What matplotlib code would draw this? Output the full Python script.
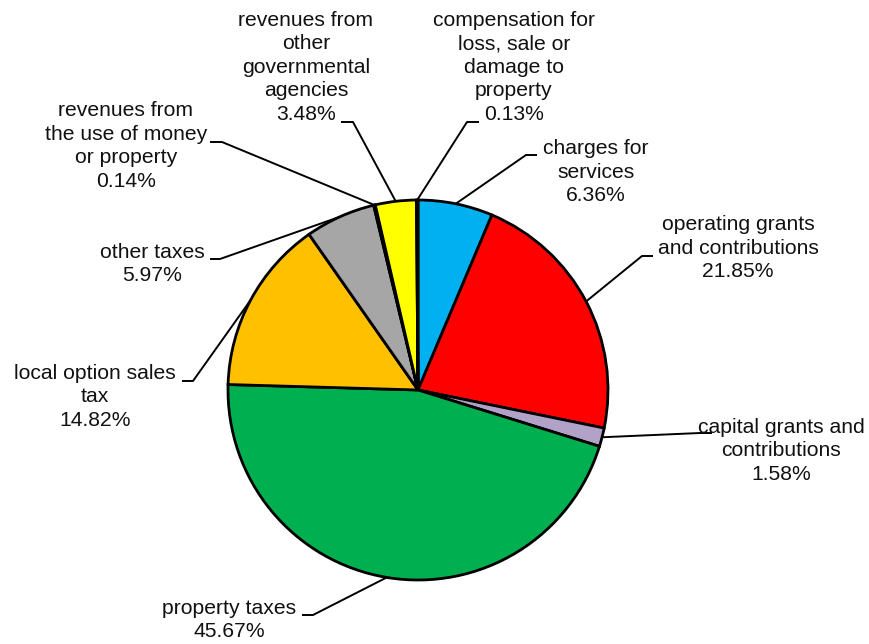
import numpy as np
import matplotlib
matplotlib.use("Agg")
import matplotlib.pyplot as plt

# slices in drawing order, clockwise from 12 o'clock
labels = [
    "charges for\nservices",
    "operating grants\nand contributions",
    "capital grants and\ncontributions",
    "property taxes",
    "local option sales\ntax",
    "other taxes",
    "revenues from\nthe use of money\nor property",
    "revenues from\nother\ngovernmental\nagencies",
    "compensation for\nloss, sale or\ndamage to\nproperty",
]
shares = [6.36, 21.85, 1.58, 45.67, 14.82, 5.97, 0.14, 3.48, 0.13]
colors = ["#00B0F0", "#FF0000", "#B3A2C7", "#00B050", "#FFC000",
          "#A6A6A6", "#7F7F7F", "#FFFF00", "#7F7F7F"]

W, H = 870, 644
# label layout in pixel coords (y down): text centre, elbow, line end
text_pos = [(596, 172), (738, 248), (781, 451), (229, 620), (95, 397),
            (152, 264), (126, 146), (306, 67), (514, 67)]
elbows = [(526, 155), (642, 256), (700, 433), (313, 615), (193, 381),
          (220, 259), (222, 142), (353, 122), (467, 122)]
line_ends = [(537, 155), (653, 256), (712, 433), (302, 615), (182, 381),
             (210, 259), (210, 142), (341, 122), (479, 122)]

plt.rcParams['font.family'] = ['Liberation Sans', 'DejaVu Sans']

fig = plt.figure(figsize=(W / 100, H / 100), dpi=100)
ax = fig.add_axes([0, 0, 1, 1])

cx, cy, r = 418, H - 390, 190
wedges, _ = ax.pie(shares, colors=colors, startangle=90, counterclock=False,
                   center=(cx, cy), radius=r,
                   wedgeprops=dict(edgecolor="black", linewidth=2.0))
ax.set_xlim(0, W)
ax.set_ylim(0, H)
ax.set_aspect("equal")
ax.axis("off")

for w, lab, val, tp, el, le in zip(wedges, labels, shares, text_pos, elbows, line_ends):
    mid = np.deg2rad((w.theta1 + w.theta2) / 2)
    ax_pt = (cx + r * np.cos(mid), cy + r * np.sin(mid))
    xs = [ax_pt[0], el[0], le[0]]
    ys = [ax_pt[1], H - el[1], H - le[1]]
    ax.plot(xs, ys, color="black", lw=1.4, solid_capstyle="butt", zorder=3)
    ax.text(tp[0], H - tp[1], f"{lab}\n{val:.2f}%", ha="center", va="center",
            multialignment="center", fontsize=15.2, linespacing=1.3,
            color="#111111")

fig.savefig("out.png", dpi=100)
